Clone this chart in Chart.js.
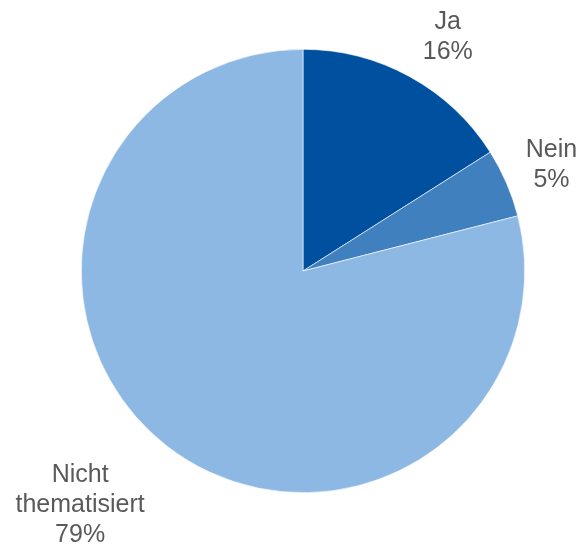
<!DOCTYPE html>
<html><head><meta charset="utf-8">
<script src="https://cdn.jsdelivr.net/npm/chart.js@4"></script>
<style>html,body{margin:0;padding:0;background:#fff}#wrap{width:581px;height:551px}</style>
</head><body><div id="wrap"><canvas id="c" width="581" height="551"></canvas></div>
<script>
const categories = ["Ja", "Nein", "Nicht thematisiert"];
const labelLines = [["Ja"], ["Nein"], ["Nicht", "thematisiert"]];
const values = [16, 5, 79];
const colors = ["#0050A0", "#4080BF", "#8DB8E4"];

const labelPlugin = {
  id: 'sliceLabels',
  afterDatasetsDraw(chart, args, opts) {
    const ctx = chart.ctx;
    const meta = chart.getDatasetMeta(0);
    ctx.save();
    ctx.font = '25px "Liberation Sans", Arial, sans-serif';
    ctx.fillStyle = '#595959';
    ctx.textAlign = 'center';
    ctx.textBaseline = 'middle';
    const lh = 30;
    meta.data.forEach((arc, i) => {
      const p = arc.getProps(['x','y','startAngle','endAngle','outerRadius'], true);
      const mid = (p.startAngle + p.endAngle) / 2;
      const ox = p.x + Math.cos(mid) * p.outerRadius;
      const oy = p.y + Math.sin(mid) * p.outerRadius;
      const off = opts.offsets[i];
      const lines = labelLines[i].concat([values[i] + '%']);
      const cx = ox + off[0], cy = oy + off[1];
      const top = cy - (lines.length - 1) * lh / 2;
      lines.forEach((t, k) => ctx.fillText(t, cx, top + k * lh));
    });
    ctx.restore();
  }
};

new Chart(document.getElementById('c'), {
  type: 'pie',
  data: {
    labels: categories,
    datasets: [{ data: values, backgroundColor: colors, borderColor: '#ffffff', borderWidth: 0.6 }]
  },
  options: {
    responsive: false,
    animation: false,
    layout: { padding: { left: 81, right: 56, top: 49, bottom: 58 } },
    plugins: {
      legend: { display: false },
      tooltip: { enabled: false },
      sliceLabels: { offsets: [[38, -40], [45, -18], [-87, 59]] }
    }
  },
  plugins: [labelPlugin]
});
</script></body></html>
